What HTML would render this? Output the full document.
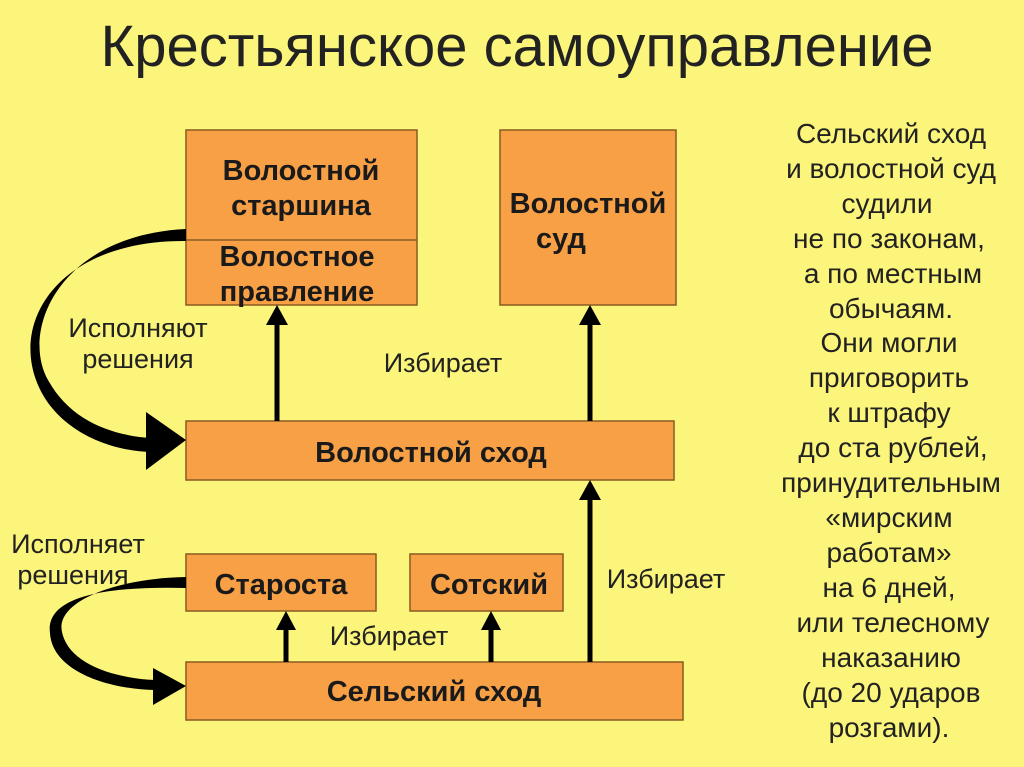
<!DOCTYPE html>
<html><head><meta charset="utf-8"><style>
html,body{margin:0;padding:0;background:#fcf57c;}
svg{display:block;font-family:"Liberation Sans",sans-serif;}
</style></head><body>
<svg width="1024" height="767" viewBox="0 0 1024 767">
<rect width="1024" height="767" fill="#fcf57c"/>
<text x="517" y="66" text-anchor="middle" font-size="58" fill="#222">Крестьянское самоуправление</text>
<g fill="#f7a046" stroke="#8a5a20" stroke-width="1.5">
<rect x="186" y="130" width="231" height="175"/>
<line x1="186" y1="240" x2="417" y2="240"/>
<rect x="500" y="130" width="176" height="175"/>
<rect x="186" y="421" width="488" height="59"/>
<rect x="186" y="554" width="190" height="57"/>
<rect x="410" y="554" width="153" height="57"/>
<rect x="186" y="662" width="497" height="58"/>
</g>
<g font-weight="bold" font-size="29" fill="#1a1a1a" text-anchor="middle">
<text x="301" y="180">Волостной</text>
<text x="301" y="215">старшина</text>
<text x="297" y="266">Волостное</text>
<text x="297" y="301">правление</text>
<text x="588" y="213">Волостной</text>
<text x="561" y="248" text-anchor="middle">суд</text>
<text x="431" y="462">Волостной сход</text>
<text x="281" y="594">Староста</text>
<text x="489" y="594">Сотский</text>
<text x="434" y="701">Сельский сход</text>
</g>
<g font-size="27" fill="#222" text-anchor="middle">
<text x="138" y="337">Исполняют</text>
<text x="138" y="368">решения</text>
<text x="78" y="553">Исполняет</text>
<text x="73" y="584">решения</text>
<text x="443" y="372">Избирает</text>
<text x="666" y="588">Избирает</text>
<text x="389" y="645">Избирает</text>
</g>
<g stroke="#000" stroke-width="5">
<line x1="277" y1="421" x2="277" y2="320"/>
<line x1="590" y1="421" x2="590" y2="320"/>
<line x1="590" y1="662" x2="590" y2="495"/>
<line x1="286" y1="662" x2="286" y2="626"/>
<line x1="491" y1="662" x2="491" y2="626"/>
</g>
<g fill="#000">
<polygon points="277,305 266,325 288,325"/>
<polygon points="590,305 579,325 601,325"/>
<polygon points="590,480 579,500 601,500"/>
<polygon points="286,611 276,630 296,630"/>
<polygon points="491,611 481,630 501,630"/>
<path d="M186,229 C60,235 20,330 48,380 C70,420 110,435 150,438 L150,452 C100,450 55,425 38,385 C10,320 60,240 186,241 Z"/>
<polygon points="146,412 186,440 146,470"/>
<path d="M186,577 C120,578 55,600 62,632 C68,662 110,678 155,680 L155,690 C105,689 52,670 50,633 C45,595 110,586 186,588 Z"/>
<polygon points="153,668 186,686 153,705"/>
</g>
<g font-size="28" fill="#222" text-anchor="middle">
<text x="891" y="143">Сельский сход</text>
<text x="891" y="178">и волостной суд</text>
<text x="887" y="213">судили</text>
<text x="889" y="248">не по законам,</text>
<text x="893" y="283">а по местным</text>
<text x="891" y="318">обычаям.</text>
<text x="889" y="352">Они могли</text>
<text x="889" y="387">приговорить</text>
<text x="889" y="422">к штрафу</text>
<text x="893" y="457">до ста рублей,</text>
<text x="891" y="492">принудительным</text>
<text x="889" y="527">«мирским</text>
<text x="889" y="562">работам»</text>
<text x="889" y="597">на 6 дней,</text>
<text x="893" y="632">или телесному</text>
<text x="891" y="667">наказанию</text>
<text x="891" y="702">(до 20 ударов</text>
<text x="889" y="737">розгами).</text>
</g>
</svg>
</body></html>
